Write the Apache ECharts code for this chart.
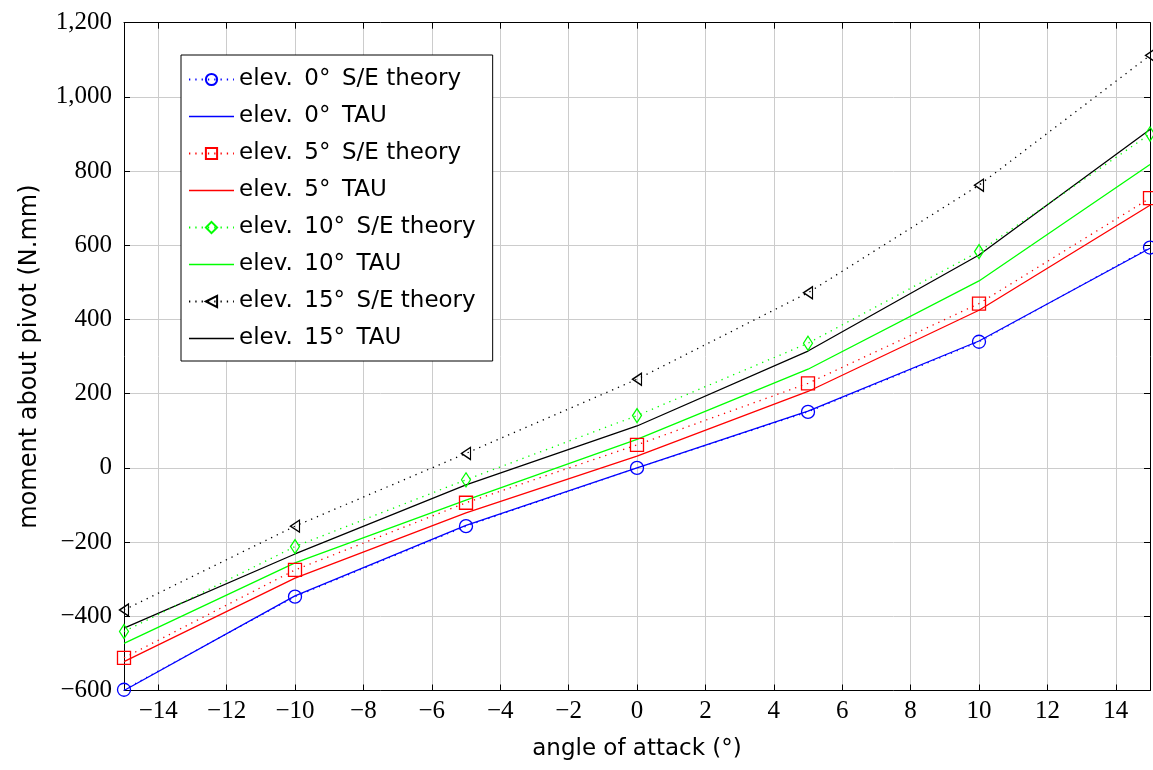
<!DOCTYPE html>
<html>
<head>
<meta charset="utf-8">
<script src="https://cdn.jsdelivr.net/npm/echarts@6/dist/echarts.min.js"></script>
<style>
html,body{margin:0;padding:0;background:#fff;}
#chart{width:1153px;height:770px;}
</style>
</head>
<body>
<div id="chart"></div>
<script>
// ---- data ----
const angles = [-15, -10, -5, 0, 5, 10, 15];
const elev0Theory  = [-598, -347, -157, 0, 151, 340, 594];
const elev0Tau     = [-600, -345, -155, 0, 153, 342, 592];
const elev5Theory  = [-512, -275, -94, 62, 228, 443, 727];
const elev5Tau     = [-522, -297, -121, 32, 206, 425, 708];
const elev10Theory = [-441, -212, -32, 141, 336, 583, 900];
const elev10Tau    = [-473, -256, -87, 77, 266, 504, 818];
const elev15Theory = [-383, -157, 39, 239, 472, 762, 1112];
const elev15Tau    = [-432, -232, -46, 113, 315, 574, 912];
const seriesNames = [
  'elev.\u20020\u00B0\u2002S/E theory', 'elev.\u20020\u00B0\u2002TAU',
  'elev.\u20025\u00B0\u2002S/E theory', 'elev.\u20025\u00B0\u2002TAU',
  'elev.\u200210\u00B0\u2002S/E theory', 'elev.\u200210\u00B0\u2002TAU',
  'elev.\u200215\u00B0\u2002S/E theory', 'elev.\u200215\u00B0\u2002TAU'
];
const xTitle = 'angle of attack (\u00B0)';
const yTitle = 'moment about pivot (N.mm)';

// ---- helpers ----
function pair(vals){ return angles.map((a,i)=>[a, vals[i]]); }
function fmtNum(v){
  const s = Math.abs(v).toLocaleString('en-US');
  return (v < 0 ? '\u2212' : '') + s;
}
const serif = 'Liberation Serif';
const sans = 'DejaVu Sans';
const lineIcon = 'path://M0,0L45,0L45,1.3L0,1.3Z';

function theory(name, vals, color, symbol, size, rotate){
  return {
    name, type:'line', data:pair(vals),
    symbol, symbolSize:size, symbolRotate:rotate||0, showSymbol:true,
    lineStyle:{color, width:1.3, type:[1.3,5]},
    itemStyle:{color:'rgba(255,255,255,0)', borderColor:color, borderWidth:1.3},
    emphasis:{disabled:true}, animation:false, z:3
  };
}
function tau(name, vals, color){
  return {
    name, type:'line', data:pair(vals), symbol:'none', showSymbol:false,
    lineStyle:{color, width:1.3, type:'solid'},
    itemStyle:{color},
    emphasis:{disabled:true}, animation:false, z:2
  };
}

const chart = echarts.init(document.getElementById('chart'), null, {renderer:'canvas'});
const tickStyle = {show:true, inside:true, length:6, lineStyle:{color:'#000', width:1}};
const axisLine = {show:true, onZero:false, lineStyle:{color:'#000', width:1}};
const splitLine = {show:true, lineStyle:{color:'#cccccc', width:1}};

chart.setOption({
  animation:false,
  backgroundColor:'#fff',
  grid:{left:124, right:-3, top:22.7, bottom:79.5, containLabel:false},
  xAxis:[{
    type:'value', min:-15, max:15, splitNumber:15,
    position:'bottom',
    name:xTitle, nameLocation:'middle', nameGap:47,
    nameTextStyle:{fontFamily:sans, fontSize:23, color:'#000'},
    axisLine, axisTick:tickStyle, splitLine,
    axisLabel:{fontFamily:serif, fontSize:25, color:'#000', margin:8,
      formatter:v => (Math.round(v) % 2 === 0 && v > -15 && v < 15) ? fmtNum(v) : ''}
  },{
    type:'value', min:-15, max:15, splitNumber:15,
    position:'top', axisLine, axisTick:tickStyle,
    splitLine:{show:false}, axisLabel:{show:false}
  }],
  yAxis:[{
    type:'value', min:-600, max:1200, interval:200,
    position:'left',
    name:yTitle, nameLocation:'middle', nameGap:82, nameRotate:90,
    nameTextStyle:{fontFamily:sans, fontSize:24, color:'#000'},
    axisLine, axisTick:tickStyle, splitLine,
    axisLabel:{fontFamily:serif, fontSize:25, color:'#000', margin:12,
      formatter:v => fmtNum(v)}
  },{
    type:'value', min:-600, max:1200, interval:200,
    position:'right', axisLine, axisTick:tickStyle,
    splitLine:{show:false}, axisLabel:{show:false}
  }],
  legend:{
    show:true, orient:'vertical', left:181, top:55,
    padding:[13,17,11,7], itemGap:14, itemWidth:45, itemHeight:14, itemTextGap:7,
    backgroundColor:'#fff', borderColor:'#000', borderWidth:1, borderRadius:0,
    textStyle:{fontFamily:sans, fontSize:23, color:'#000', lineHeight:23},
    data:seriesNames.map((n,i) => i % 2 === 1 ? {name:n, icon:lineIcon} : {name:n})
  },
  series:[
    theory(seriesNames[0], elev0Theory, '#0000ff', 'circle', 13),
    tau(seriesNames[1], elev0Tau, '#0000ff'),
    theory(seriesNames[2], elev5Theory, '#ff0000', 'rect', 13),
    tau(seriesNames[3], elev5Tau, '#ff0000'),
    theory(seriesNames[4], elev10Theory, '#00ff00', 'diamond', [9,14]),
    tau(seriesNames[5], elev10Tau, '#00ff00'),
    theory(seriesNames[6], elev15Theory, '#000000', 'triangle', [12,9], 90),
    tau(seriesNames[7], elev15Tau, '#000000')
  ]
});
</script>
</body>
</html>
